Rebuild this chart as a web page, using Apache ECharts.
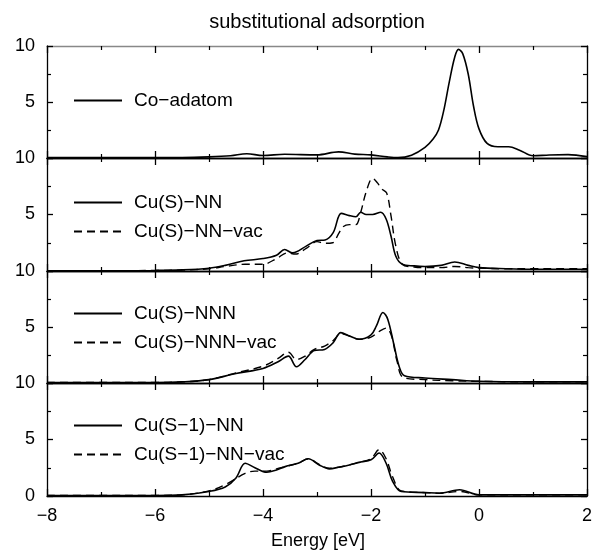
<!DOCTYPE html>
<html>
<head>
<meta charset="utf-8">
<script src="https://cdn.jsdelivr.net/npm/echarts@6/dist/echarts.min.js"></script>
<style>
html,body{margin:0;padding:0;background:#fff;}
#c{width:592px;height:550px;}
</style>
</head>
<body>
<div id="c"></div>
<script>
// ---- data ----
const title = 'substitutional adsorption';
const xName = 'Energy [eV]';

const coE = [-8,-7,-6,-5.5,-5,-4.6,-4.3,-4.0,-3.6,-3.0,-2.6,-2.3,-2.0,-1.7,-1.5,-1.25,-1.0,-0.85,-0.75,-0.65,-0.55,-0.45,-0.38,-0.3,-0.2,-0.1,0,0.15,0.35,0.55,0.75,1.0,1.3,1.65,2.0];
const coV = [0.05,0.05,0.05,0.05,0.1,0.2,0.38,0.22,0.33,0.28,0.55,0.35,0.28,0.1,0.03,0.25,0.95,1.7,2.5,4.3,6.8,9.0,9.7,9.3,7.5,4.6,2.6,1.3,1.0,1.0,0.7,0.2,0.27,0.3,0.12];

const nnE = [-8,-7,-6,-5.5,-5,-4.7,-4.35,-4.0,-3.75,-3.6,-3.45,-3.2,-3.0,-2.85,-2.7,-2.55,-2.4,-2.28,-2.19,-2.09,-1.97,-1.82,-1.72,-1.63,-1.54,-1.42,-1.2,-1.0,-0.7,-0.45,-0.2,0,0.5,1.0,1.5,2.0];
const nnV = [0.02,0.02,0.05,0.1,0.25,0.5,0.9,1.1,1.4,1.9,1.6,2.2,2.7,2.75,3.4,5.1,4.9,4.8,5.2,5.0,5.0,5.2,4.6,3.1,1.3,0.6,0.45,0.4,0.5,0.8,0.5,0.3,0.2,0.15,0.15,0.15];
const nnvE = [-8,-7,-6,-5.5,-5,-4.7,-4.33,-4.0,-3.75,-3.55,-3.4,-3.2,-3.0,-2.86,-2.71,-2.6,-2.52,-2.4,-2.28,-2.19,-2.09,-1.97,-1.88,-1.81,-1.71,-1.63,-1.54,-1.42,-1.2,-1.0,-0.7,-0.45,-0.2,0,0.5,1.0,1.5,2.0];
const nnvV = [0.02,0.02,0.05,0.08,0.2,0.4,0.6,0.6,1.1,1.6,1.5,2.0,2.6,2.45,2.5,3.3,3.9,4.1,4.1,5.2,7.0,8.2,7.8,7.3,6.9,4.9,2.2,0.6,0.35,0.3,0.3,0.4,0.3,0.25,0.2,0.2,0.2,0.2];

const nnnE = [-8,-7,-6,-5.5,-5,-4.5,-4.0,-3.72,-3.53,-3.38,-3.22,-3.05,-2.86,-2.7,-2.56,-2.4,-2.22,-2.0,-1.9,-1.78,-1.69,-1.57,-1.48,-1.38,-1.0,-0.5,0,1.0,2.0];
const nnnV = [0.05,0.05,0.05,0.1,0.3,0.85,1.3,1.9,2.4,1.45,2.1,2.9,3.0,3.6,4.5,4.2,3.9,4.3,5.1,6.3,5.7,3.3,1.5,0.65,0.45,0.3,0.15,0.1,0.1];
const nnnvE = [-8,-7,-6,-5.5,-5,-4.5,-4.0,-3.72,-3.53,-3.38,-3.22,-3.05,-2.86,-2.7,-2.56,-2.4,-2.22,-2.0,-1.85,-1.72,-1.62,-1.52,-1.4,-1.0,-0.5,0,1.0,2.0];
const nnnvV = [0.05,0.05,0.05,0.1,0.3,0.9,1.5,2.2,2.75,2.1,2.4,3.0,3.3,3.8,4.4,4.2,3.9,4.1,4.6,4.9,4.2,2.0,0.5,0.3,0.2,0.15,0.1,0.1];

const s1E = [-8,-7,-6,-5.5,-5,-4.7,-4.5,-4.33,-4.15,-3.93,-3.75,-3.59,-3.35,-3.16,-2.96,-2.77,-2.6,-2.4,-2.2,-2.0,-1.85,-1.72,-1.6,-1.44,-1.0,-0.73,-0.36,0,1.0,2.0];
const s1V = [0.05,0.05,0.05,0.1,0.4,0.8,1.6,2.9,2.5,2.1,2.3,2.6,2.9,3.3,2.75,2.4,2.55,2.75,3.0,3.2,3.8,2.9,1.3,0.4,0.3,0.25,0.55,0.1,0.1,0.1];
const s1vE = [-8,-7,-6,-5.5,-5,-4.7,-4.33,-4.15,-3.93,-3.75,-3.59,-3.35,-3.16,-2.96,-2.77,-2.6,-2.4,-2.2,-2.0,-1.85,-1.72,-1.6,-1.44,-1.0,-0.73,-0.36,0,1.0,2.0];
const s1vV = [0.05,0.05,0.05,0.1,0.45,1.0,2.0,2.2,2.2,2.4,2.6,2.9,3.3,2.8,2.45,2.55,2.75,3.0,3.3,4.1,3.3,1.7,0.45,0.3,0.25,0.4,0.1,0.1,0.1];

const panels = [
  [{name:'Co\u2212adatom', e:coE, v:coV, dash:false}],
  [{name:'Cu(S)\u2212NN', e:nnE, v:nnV, dash:false},{name:'Cu(S)\u2212NN\u2212vac', e:nnvE, v:nnvV, dash:true}],
  [{name:'Cu(S)\u2212NNN', e:nnnE, v:nnnV, dash:false},{name:'Cu(S)\u2212NNN\u2212vac', e:nnnvE, v:nnnvV, dash:true}],
  [{name:'Cu(S\u22121)\u2212NN', e:s1E, v:s1V, dash:false},{name:'Cu(S\u22121)\u2212NN\u2212vac', e:s1vE, v:s1vV, dash:true}]
];

// ---- layout ----
const FONT = '"Liberation Sans", Arial, Helvetica, sans-serif';
const L = 47, R = 5;
const tops = [46, 158, 271, 383];
const heights = [112, 113, 112, 113];
const legendTops = [86, 188, 299, 411];
const TICK = '#000';

const grid = [], xAxis = [], yAxis = [], series = [], legend = [];
const fmtNum = v => (v < 0 ? '\u2212' + Math.abs(v) : String(v));

panels.forEach((p, i) => {
  grid.push({left: L, right: R, top: tops[i], height: heights[i], containLabel: false, outerBoundsMode: 'none', show: false});
  const isBottom = i === panels.length - 1;
  const mkX = (pos, color) => ({
    type: 'value', gridIndex: i, min: -8, max: 2, interval: 2, position: pos,
    axisLine: {show: true, onZero: false, lineStyle: {color: color, width: 1.3}},
    axisTick: {show: true, inside: true, length: 7, lineStyle: {color: TICK, width: 1.3}},
    minorTick: {show: true, splitNumber: 2, length: 4, lineStyle: {color: TICK, width: 1.2}},
    splitLine: {show: false}, minorSplitLine: {show: false},
    axisLabel: (pos === 'bottom' && isBottom)
      ? {show: true, color: '#000', fontSize: 18, fontFamily: FONT, margin: 11, formatter: fmtNum}
      : {show: false}
  });
  xAxis.push(mkX('bottom', '#000'));
  xAxis.push(mkX('top', i === 0 ? '#888' : '#000'));
  const mkY = (pos) => ({
    type: 'value', gridIndex: i, min: 0, max: 10, interval: 5, position: pos,
    axisLine: {show: true, onZero: false, lineStyle: {color: '#000', width: 1.3}},
    axisTick: {show: true, inside: true, length: 6, lineStyle: {color: TICK, width: 1.3}},
    minorTick: {show: true, splitNumber: 2, length: 4, lineStyle: {color: TICK, width: 1.2}},
    splitLine: {show: false}, minorSplitLine: {show: false},
    axisLabel: pos === 'left'
      ? {show: true, color: '#000', fontSize: 18, fontFamily: FONT, margin: 12,
         formatter: v => (v === 10 || v === 5 || (isBottom && v === 0)) ? String(v) : ''}
      : {show: false}
  });
  yAxis.push(mkY('left'));
  yAxis.push(mkY('right'));

  const names = [];
  p.forEach(s => {
    names.push(s.name);
    series.push({
      type: 'line', name: s.name, xAxisIndex: 2 * i, yAxisIndex: 2 * i,
      data: s.e.map((e, k) => [e, s.v[k]]),
      smooth: 0.35, symbol: 'none', showSymbol: false, silent: true, animation: false,
      lineStyle: {color: '#000', width: s.dash ? 1.4 : 1.6, type: s.dash ? [8, 5] : 'solid'},
      itemStyle: {color: '#000'}
    });
  });
  legend.push({
    data: names, orient: 'vertical', left: 68, top: legendTops[i],
    itemWidth: 48, itemHeight: 14, itemGap: 10, selectedMode: false,
    itemStyle: {opacity: 0},
    textStyle: {color: '#000', fontSize: 19, fontFamily: FONT, padding: [0, 0, 0, 7]}
  });
});

const chart = echarts.init(document.getElementById('c'), null, {renderer: 'canvas'});
chart.setOption({
  animation: false,
  backgroundColor: '#fff',
  grid, xAxis, yAxis, series, legend,
  graphic: [
    {type: 'text', x: 317, y: 22, style: {text: title, fill: '#000', font: '20px ' + FONT, align: 'center', verticalAlign: 'middle'}},
    {type: 'text', x: 318, y: 541, style: {text: xName, fill: '#000', font: '18px ' + FONT, align: 'center', verticalAlign: 'middle'}}
  ]
});
</script>
</body>
</html>
